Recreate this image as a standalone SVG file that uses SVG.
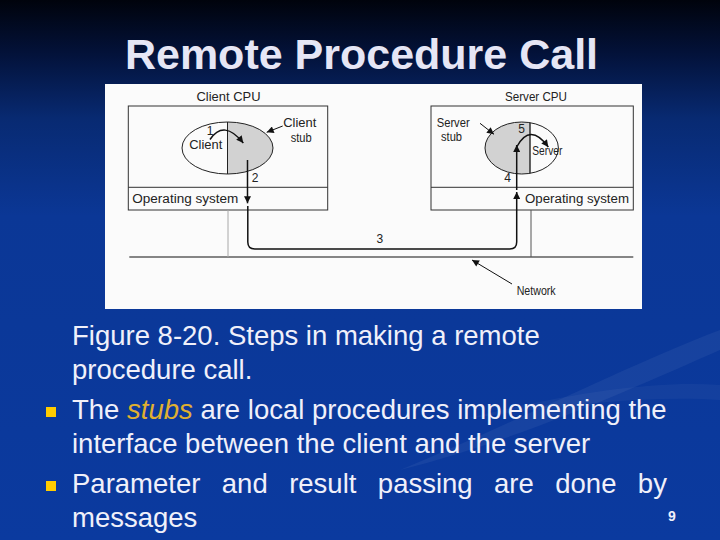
<svg xmlns="http://www.w3.org/2000/svg" width="720" height="540" viewBox="0 0 720 540">
  <defs>
    <linearGradient id="bg" x1="0" y1="0" x2="0" y2="1">
      <stop offset="0" stop-color="#00030c"/>
      <stop offset="0.1" stop-color="#03123a"/>
      <stop offset="0.22" stop-color="#082a72"/>
      <stop offset="0.4" stop-color="#0b3796"/>
      <stop offset="1" stop-color="#0b3a9f"/>
    </linearGradient>
    <marker id="ah" viewBox="0 0 10 10" refX="10" refY="5" markerWidth="8" markerHeight="7" markerUnits="userSpaceOnUse" orient="auto">
      <path d="M0,0 L10,5 L0,10 Z" fill="#111"/>
    </marker>
    <style>
      .lbl { font-family: "Liberation Sans", Arial, sans-serif; font-size: 12px; fill: #222; }
      .box { fill: none; stroke: #333; stroke-width: 1; }
      .arr { fill: none; stroke: #111; stroke-width: 1.5; }
      .thin { fill: none; stroke: #111; stroke-width: 1; }
      .body { font-family: "Liberation Sans", Arial, sans-serif; font-size: 27.5px; fill: #f0f0fa; }
      .bullet { fill: #ffcc00; }
    </style>
  </defs>

  <rect x="0" y="0" width="720" height="540" fill="url(#bg)"/>
  <path d="M400,470 C520,420 640,360 720,330 L720,350 C640,385 520,440 400,470 Z" fill="#ffffff" opacity="0.05"/>
  <path d="M460,420 C560,395 650,380 720,385 L720,400 C650,395 560,405 460,420 Z" fill="#ffffff" opacity="0.04"/>

  <text x="361.5" y="69" text-anchor="middle" font-family="'Liberation Sans', Arial, sans-serif" font-size="43" font-weight="bold" fill="#e6e6f5">Remote Procedure Call</text>

  <g id="figure">
    <rect x="105" y="84" width="537" height="225" fill="#fbfbfb"/>
  </g>

  <g id="client-cpu">
    <text class="lbl" x="228.5" y="100.5" text-anchor="middle" textLength="64" lengthAdjust="spacingAndGlyphs">Client CPU</text>
    <rect class="box" x="128.3" y="106" width="199.4" height="104"/>
    <line class="box" x1="128.3" y1="187.3" x2="327.7" y2="187.3"/>
    <text class="lbl" x="132.3" y="202.7" textLength="106" lengthAdjust="spacingAndGlyphs">Operating system</text>
  </g>

  <g id="client-process">
    <path d="M227.5,122 A45.5,26 0 0 1 227.5,174 Z" fill="#d2d2d2"/>
    <ellipse cx="227.5" cy="148" rx="45.5" ry="26" fill="none" stroke="#222" stroke-width="1"/>
    <line x1="227.5" y1="122" x2="227.5" y2="174" stroke="#222" stroke-width="1"/>
    <text class="lbl" x="189.3" y="149" textLength="33" lengthAdjust="spacingAndGlyphs">Client</text>
    <text class="lbl" x="283.3" y="126.7" textLength="33" lengthAdjust="spacingAndGlyphs">Client</text>
    <text class="lbl" x="290.7" y="141.7" textLength="21" lengthAdjust="spacingAndGlyphs">stub</text>
  </g>

  <g id="server-cpu">
    <text class="lbl" x="536" y="100.5" text-anchor="middle" textLength="62" lengthAdjust="spacingAndGlyphs">Server CPU</text>
    <rect class="box" x="431" y="106" width="202.3" height="104"/>
    <line class="box" x1="431" y1="187.3" x2="633.3" y2="187.3"/>
    <text class="lbl" x="525" y="202.7" textLength="104" lengthAdjust="spacingAndGlyphs">Operating system</text>
  </g>

  <g id="server-process">
    <path d="M530,122.7 A36.7,26 0 1 0 530,173.3 Z" fill="#d2d2d2"/>
    <ellipse cx="521.7" cy="148" rx="36.7" ry="26" fill="none" stroke="#222" stroke-width="1"/>
    <line x1="530" y1="122.7" x2="530" y2="173.3" stroke="#222" stroke-width="1.4"/>
    <text class="lbl" x="532.3" y="155" textLength="30" lengthAdjust="spacingAndGlyphs">Server</text>
    <text class="lbl" x="436.7" y="127" textLength="33" lengthAdjust="spacingAndGlyphs">Server</text>
    <text class="lbl" x="441" y="141" textLength="21" lengthAdjust="spacingAndGlyphs">stub</text>
  </g>

  <g id="network">
    <line x1="129.3" y1="257" x2="633.3" y2="257" stroke="#111" stroke-width="1.2"/>
    <line x1="228" y1="210" x2="228" y2="257" stroke="#a8a8a8" stroke-width="1"/>
    <line x1="531" y1="210" x2="531" y2="257" stroke="#555" stroke-width="1"/>
    <text class="lbl" x="516.7" y="295" textLength="39" lengthAdjust="spacingAndGlyphs">Network</text>
  </g>

  <g id="connectors">
    <path class="arr" d="M210,139.5 Q224,119 243.3,143" marker-end="url(#ah)"/>
    <line class="thin" x1="282.7" y1="126" x2="266.7" y2="132.3" marker-end="url(#ah)"/>
    <line class="arr" x1="247.5" y1="160" x2="247.5" y2="203.3" marker-end="url(#ah)"/>
    <path class="arr" d="M247.8,206 L247.8,242 Q247.8,249 254.8,249 L509.7,249 Q516.7,249 516.7,242 L516.7,192" marker-end="url(#ah)"/>
    <line class="arr" x1="516.7" y1="190" x2="516.7" y2="145" marker-end="url(#ah)"/>
    <path class="arr" d="M516.7,147 Q530,122 548.3,147" marker-end="url(#ah)"/>
    <line class="thin" x1="480" y1="123.3" x2="494" y2="134.3" marker-end="url(#ah)"/>
    <line class="thin" x1="512" y1="284" x2="472" y2="260" marker-end="url(#ah)"/>
    <text class="lbl" x="206.7" y="135">1</text>
    <text class="lbl" x="251.7" y="181.7">2</text>
    <text class="lbl" x="376.5" y="243">3</text>
    <text class="lbl" x="504.3" y="182.3">4</text>
    <text class="lbl" x="518.3" y="133">5</text>
  </g>

  <g id="caption">
    <text class="body" x="72" y="345">Figure 8-20. Steps in making a remote</text>
    <text class="body" x="72" y="379">procedure call.</text>
    <rect class="bullet" x="46" y="407" width="10" height="10"/>
    <text class="body" x="72" y="419">The <tspan font-style="italic" fill="#e0b030">stubs</tspan> are local procedures implementing the</text>
    <text class="body" x="72" y="453">interface between the client and the server</text>
    <rect class="bullet" x="46" y="481" width="10" height="10"/>
    <text class="body" x="72" y="493" word-spacing="13.8">Parameter and result passing are done by</text>
    <text class="body" x="72" y="527">messages</text>
    <text x="672" y="521" text-anchor="middle" font-family="'Liberation Sans', Arial, sans-serif" font-size="14" font-weight="bold" fill="#f0f0fa">9</text>
  </g>
</svg>
